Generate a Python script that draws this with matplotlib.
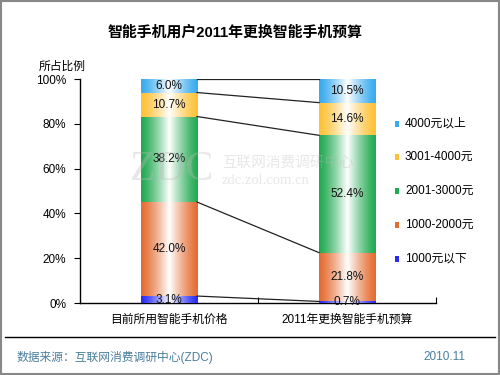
import numpy as np
import matplotlib.pyplot as plt
from matplotlib.colors import to_rgb
from matplotlib.patches import Rectangle

plt.rcParams['font.family'] = ['Liberation Sans', 'Noto Sans CJK SC']

# ===================== 数据 =====================
groups = ['目前所用智能手机价格', '2011年更换智能手机预算']
segments = ['1000元以下', '1000-2000元', '2001-3000元', '3001-4000元', '4000元以上']
current = [3.1, 42.0, 38.2, 10.7, 6.0]
budget = [0.7, 21.8, 52.4, 14.6, 10.5]
colors = ['#2a2af5', '#e46c32', '#22aa52', '#fdc134', '#38aaee']

values = np.array([current, budget])
bar_w = 0.315


def gradient_img(color, n=200):
    # 横向渐变：两侧为颜色，中间为白色
    x = np.linspace(-1, 1, n)
    t = np.clip(1 - np.abs(x), 0, 1) ** 1.3
    c = np.array(to_rgb(color))
    img = c[None, :] * (1 - t[:, None]) + t[:, None]
    return img[None, :, :]


fig = plt.figure(figsize=(5, 3.75), dpi=100)
ax = fig.add_axes([0.16, 0.192, 0.712, 0.597])

for gi in range(2):
    bottom = 0
    for si, v in enumerate(values[gi]):
        bar = ax.bar(gi, v, bottom=bottom, width=bar_w, color=colors[si],
                     linewidth=0, zorder=2)[0]
        im = ax.imshow(gradient_img(colors[si]), aspect='auto', zorder=3,
                       extent=[gi - bar_w / 2, gi + bar_w / 2, bottom, bottom + v])
        im.set_clip_path(bar)
        ax.text(gi, bottom + v / 2, '%.1f%%' % v, ha='center', va='center',
                fontsize=8.5, color='#111111', zorder=6)
        bottom += v

# 连接线
cum = np.cumsum(values, axis=1)
for i in range(len(segments)):
    ax.plot([bar_w / 2, 1 - bar_w / 2], [cum[0, i], cum[1, i]],
            color='#222222', lw=0.9, zorder=4)

ax.set_xlim(-0.5, 1.5)
ax.set_ylim(0, 100)
ax.autoscale(False)
ax.set_yticks(np.arange(0, 101, 20))
ax.set_yticklabels(['%d%%' % t for t in range(0, 101, 20)], fontsize=8.5)
ax.set_xticks([0.5, 1.5])
ax.set_xticklabels([])
ax.tick_params(axis='x', direction='in', length=4, width=0.8)
ax.tick_params(axis='y', direction='out', length=4, width=0.8, pad=6)
for i, g in enumerate(groups):
    ax.text(i, -5, g, ha='center', va='top', fontsize=8.5,
            transform=ax.transData)
for s in ['top', 'right']:
    ax.spines[s].set_visible(False)
for s in ['left', 'bottom']:
    ax.spines[s].set_linewidth(1.0)

# 水印（半透明，盖在柱子上）
wm = dict(color='#bbbbbb', alpha=0.35, zorder=10)
fig.text(172 / 500, 1 - 170 / 375, 'ZDC', fontsize=30, fontfamily='Liberation Serif',
         ha='center', va='center', **wm)
fig.text(222 / 500, 1 - 163 / 375, '互联网消费调研中心', fontsize=10.5,
         ha='left', va='center', **wm)
fig.text(222 / 500, 1 - 181 / 375, 'zdc.zol.com.cn', fontsize=10.5,
         fontfamily='Liberation Serif', ha='left', va='center', **wm)

# 图例
ys = [259, 225, 191, 157, 124]
for si, name in enumerate(segments):
    yf = 1 - ys[si] / 375
    fig.add_artist(Rectangle((395 / 500, yf - 0.008), 0.008, 0.016,
                             transform=fig.transFigure, facecolor=colors[si],
                             edgecolor='none'))
    fig.text(405 / 500, yf, name, fontsize=8.5, ha='left', va='center')

fig.text(0.47, 1 - 33 / 375, '智能手机用户2011年更换智能手机预算', fontsize=10.7,
         fontweight='bold', ha='center', va='center')
fig.text(62 / 500, 1 - 67 / 375, '所占比例', fontsize=8.5, ha='center', va='center')

# 底部分隔线与来源
fig.add_artist(plt.Line2D([0.01, 0.99], [1 - 337 / 375] * 2, color='black', lw=1,
                          transform=fig.transFigure))
fig.text(17 / 500, 1 - 357 / 375, '数据来源：互联网消费调研中心(ZDC)', fontsize=8.5,
         color='#4a7e9c', ha='left', va='center')
fig.text(465 / 500, 1 - 357 / 375, '2010.11', fontsize=8.5, color='#4a7e9c',
         ha='right', va='center')

# 外框
fig.add_artist(Rectangle((0.002, 0.003), 0.996, 0.994, transform=fig.transFigure,
                         facecolor='none', edgecolor='#888888', lw=1.5))

fig.savefig('out.png', dpi=100)
